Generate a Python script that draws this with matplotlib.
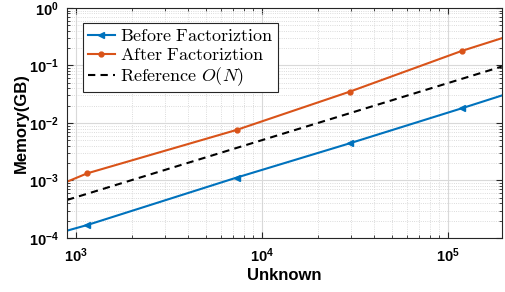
import matplotlib
matplotlib.use("Agg")
import matplotlib.pyplot as plt
import numpy as np
from matplotlib.ticker import LogLocator, NullFormatter

# Data (line ends at axis limits; markers at inner points)
unknowns = [895, 1150, 7300, 29700, 119000, 195000]
before_mem = [1.34e-4, 1.68e-4, 1.12e-3, 4.43e-3, 1.80e-2, 3.0e-2]
after_mem = [9.5e-4, 1.33e-3, 7.55e-3, 3.5e-2, 1.79e-1, 2.97e-1]
ref_n = [895, 195000]
ref_mem = [4.58e-4, 9.55e-2]

labels = [r"$\mathrm{Before\ Factoriztion}$", r"$\mathrm{After\ Factoriztion}$",
          r"$\mathrm{Reference}\ O(N)$"]

plt.rcParams['mathtext.fontset'] = 'cm'

fig = plt.figure(figsize=(5.05, 2.92), dpi=100)
ax = fig.add_axes([0.1327, 0.185, 0.861, 0.788])

blue = '#0072BD'
orange = '#D95319'
ax.plot(unknowns, before_mem, color=blue, lw=1.5, marker='<', ms=4.5,
        markevery=[1, 2, 3, 4], label=labels[0])
ax.plot(unknowns, after_mem, color=orange, lw=1.5, marker='o', ms=3.5,
        markevery=[1, 2, 3, 4], label=labels[1])
ax.plot(ref_n, ref_mem, color='black', lw=1.5, ls=(0, (3.5, 2.5)), label=labels[2])

ax.set_xscale('log')
ax.set_yscale('log')
ax.set_xlim(895, 195000)
ax.set_ylim(1e-4, 1)
ax.xaxis.set_major_locator(LogLocator(base=10, numticks=10))
ax.yaxis.set_major_locator(LogLocator(base=10, numticks=10))
ax.xaxis.set_minor_locator(LogLocator(base=10, subs=np.arange(2, 10), numticks=20))
ax.yaxis.set_minor_locator(LogLocator(base=10, subs=np.arange(2, 10), numticks=20))
ax.xaxis.set_minor_formatter(NullFormatter())
ax.yaxis.set_minor_formatter(NullFormatter())

ax.grid(True, which='major', color='#d9d9d9', lw=0.8, ls='-')
ax.grid(True, which='minor', color='#d0d0d0', lw=0.6, ls=':')
ax.set_axisbelow(True)
ax.tick_params(which='both', direction='in', top=True, right=True, color='#262626')
ax.tick_params(which='major', length=4, labelsize=10.5, pad=6)
ax.tick_params(which='minor', length=2)
for lab in ax.get_xticklabels() + ax.get_yticklabels():
    lab.set_fontweight('bold')
    lab.set_fontfamily('Liberation Sans')
for s in ax.spines.values():
    s.set_color('#262626')
    s.set_linewidth(0.8)

ax.set_xlabel('Unknown', fontsize=12, fontweight='bold', family='Liberation Sans', labelpad=2)
ax.set_ylabel('Memory(GB)', fontsize=12, fontweight='bold', family='Liberation Sans', labelpad=0)

leg = ax.legend(loc='upper left', bbox_to_anchor=(0.037, 0.935),
                prop={'size': 13},
                frameon=True, fancybox=False, edgecolor='#262626', framealpha=1,
                handlelength=1.5, handletextpad=0.3, borderpad=0.25, labelspacing=0.05,
                borderaxespad=0)
leg.get_frame().set_linewidth(0.8)

fig.savefig('out.png', dpi=100)
